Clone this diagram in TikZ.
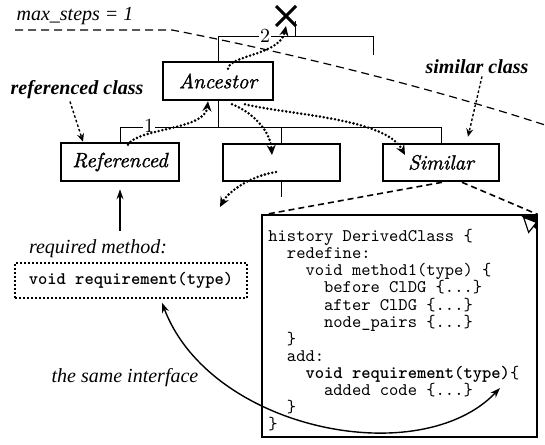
\documentclass[tikz,border=0pt]{standalone}
\usepackage{fontspec}
\usetikzlibrary{arrows.meta,shapes.misc}
\newfontfamily\tnr{Liberation Serif}
\newfontfamily\clsfont[FakeBold=1.3]{Latin Modern Roman}
\newfontfamily\codett{lmmono10-regular.otf}[BoldFont=lmmonolt10-bold.otf]
\tikzset{cls/.style={draw, line width=1.3pt, minimum height=19pt, inner sep=0pt,
        font=\clsfont\fontsize{10.3}{12}\selectfont\itshape},
    tree/.style={line width=0.5pt},
    num/.style={fill=white, inner sep=0.6pt, font=\fontsize{10}{12}\selectfont},
    note/.style={inner sep=0pt, font=\tnr\fontsize{10}{12}\selectfont\itshape},
    tag/.style={inner sep=0pt, font=\tnr\fontsize{10}{12}\selectfont\bfseries\itshape},
    codefont/.style={font=\codett\fontsize{8.85}{8.55}\selectfont},
    walk/.style={line width=1.4pt, dash pattern=on 0pt off 1.9pt, line cap=round,
        -{Stealth[length=5pt,width=4.5pt]}},
    hint/.style={line width=0.7pt, dash pattern=on 1.3pt off 1.1pt,
        -{Stealth[length=4pt,width=3.5pt]}},
    limit/.style={line width=0.6pt, dash pattern=on 4pt off 2.5pt},
    zoomline/.style={line width=0.8pt, dash pattern=on 3pt off 2pt},
    }

\begin{document}
\begin{tikzpicture}[x=0.5pt,y=-0.5pt]
	\useasboundingbox (0,0) rectangle (545,444);
	% class hierarchy
	\node[cls, minimum width=55pt] (anc) at (218,81) {Ancestor};
	\node[cls, minimum width=59pt] (ref) at (120,162) {Referenced};
	\node[draw, line width=0.6pt, minimum width=58.5pt, minimum height=18.5pt] (mid) at (281.5,162.5) {};
	\node[cls, minimum width=58pt, minimum height=18.5pt] (sim) at (441,162.5) {Similar};
	\node[cross out, draw, line width=1.5pt, minimum size=8.5pt, inner sep=0pt] (cut) at (286,16) {};

	\coordinate (upbar) at (295,37);
	\coordinate (upstem) at (295,21);
	\coordinate (sibling) at (373,55);
	\coordinate (lowbar) at (218,127);
	\coordinate (midstem) at (282,197);
	\draw[limit] (15,30) -- (172,30) .. controls (250,45) and (400,78) .. (545,125);
	\draw[tree] (anc.north) |- (upbar) -- (upstem);
	\draw[tree] (upbar) -| (sibling);
	\draw[tree] (anc.south) -- (lowbar);
	\draw[tree] (ref.north) |- (sim.north |- lowbar) -- (sim.north);
	\draw[tree] (mid.north) -- (mid.north |- lowbar);
	\draw[tree] (mid.south) -- (mid.south |- midstem);
	\node[num] (one) at (149,126) {1};
	\node[num] (two) at (265,36) {2};

	% labels
	\node[note] (steps) at (75,16) {max\_steps = 1};
	\node[tag] (reflbl) at (77,90) {referenced class};
	\node[tag] (simlbl) at (477,67) {similar class};
	\node[note] (reqlbl) at (98,249) {required method:};
	\node[note] (same) at (125,378) {the same interface};
	\node[draw, line width=0.7pt, dash pattern=on 1pt off 1pt, minimum width=116pt,
		minimum height=17.5pt, codefont] (req) at (131,280.5) {\bfseries void requirement(type)};

	% history listing
	\node[draw, line width=0.6pt, minimum width=137.5pt, minimum height=111pt] (code) at (399.5,326) {};
	\node[codefont, align=left, anchor=north west, inner sep=0pt] (listing) at (268,229)
		{history DerivedClass \{\\
		\hspace*{1.05em}redefine:\\
		\hspace*{2.1em}void method1(type) \{\\
		\hspace*{3.15em}before ClDG \{...\}\\
		\hspace*{3.15em}after ClDG \{...\}\\
		\hspace*{3.15em}node\_pairs \{...\}\\
		\hspace*{1.05em}\}\\
		\hspace*{1.05em}add:\\
		\hspace*{2.1em}\textbf{void requirement(type)}\{\\
		\hspace*{3.15em}added code \{...\}\\
		\hspace*{1.05em}\}\\
		\}};
	\fill (code.north east) -- ++(-9pt,0) -- ++(9pt,-8pt) -- cycle;
	\filldraw[fill=white, line width=0.6pt] ([shift={(-7pt,-1.5pt)}]code.north east)
		-- ++(6.5pt,-2.5pt) -- ++(-4pt,-5pt) -- cycle;
	\coordinate (impl) at (500,388);
	\coordinate (away) at (220,207);

	% connectors
	\draw[zoomline] ([xshift=0.5pt]sim.south) -- ([xshift=2pt]code.north west);
	\draw[zoomline] ([xshift=10.5pt]sim.south) -- (code.north east);
	\draw[walk] ([xshift=4pt,yshift=-1.5pt]ref.north) .. controls (138,128) and (205,130) .. ([xshift=-5pt]anc.south);
	\draw[walk] ([xshift=5pt,yshift=-4pt]anc.north) .. controls (230,55) and (280,55) .. (cut.south);
	\draw[walk] ([xshift=7pt,yshift=-1.5pt]anc.south) .. controls (252,112) and (270,130) .. ([xshift=-4.75pt,yshift=3.75pt]mid.center);
	\draw[walk] ([xshift=13.5pt,yshift=-1.5pt]anc.south) .. controls (290,115) and (385,118) .. ([xshift=-18pt,yshift=3.75pt]sim.center);
	\draw[walk] ([xshift=-2.75pt,yshift=-4.75pt]mid.center) .. controls (250,176) and (228,192) .. (away);
	\draw[hint] ([xshift=-3.5pt,yshift=-1pt]reflbl.south) -- ([xshift=-18.5pt]ref.north);
	\draw[hint] ([xshift=2.5pt,yshift=-1pt]simlbl.south) -- ([xshift=13.5pt,yshift=3pt]sim.north);
	\draw[-{Stealth[length=5pt,width=3.5pt]}, line width=0.6pt] ([yshift=4.5pt]ref.south |- reqlbl.north) -- ([yshift=-3.5pt]ref.south);
	\draw[{Stealth[length=5pt,width=3.5pt]}-{Stealth[length=5pt,width=3.5pt]}, line width=0.7pt]
		([xshift=15.5pt,yshift=-2pt]req.south) .. controls (210,430) and (420,472) .. (impl);
\end{tikzpicture}
\end{document}
